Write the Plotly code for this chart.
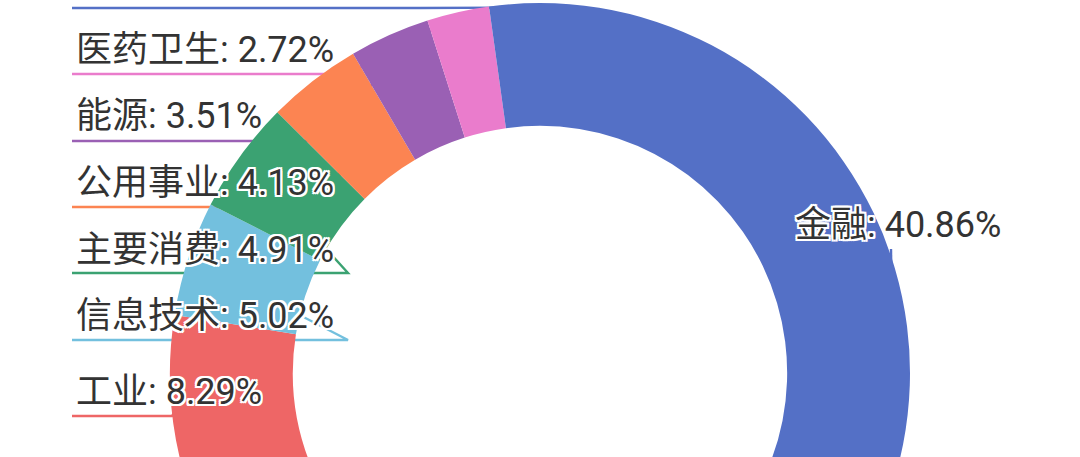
import math
import plotly.graph_objects as go

# ---------------- data ----------------
sectors = ["金融", "可选消费", "原材料", "工业", "信息技术", "主要消费",
           "公用事业", "能源", "医药卫生", "电信业务"]
weights = [40.86, 15.37, 12.99, 8.29, 5.02, 4.91, 4.13, 3.51, 2.72, 2.20]
palette = ["#5470c6", "#91cc75", "#fac858", "#ee6666", "#73c0de",
           "#3ba272", "#fc8452", "#9a60b4", "#ea7ccc"]

# ---------------- layout constants ----------------
W, H = 1080, 760          # figure taller than the window; the window shows its top part
CX, CY, R = 540, 373, 370  # donut centre / outer radius in px
HOLE = 0.668
TEXT_X = 74
LINE_X0 = 72
FONT = "Roboto, 'Noto Sans CJK SC', sans-serif"
FONT_SIZE = 36

# label placement: side ("none" = label lies outside the visible window), underline y, elbow x
label_side = ["right", "none", "none", "left", "left", "left", "left", "left", "left", "left"]
label_under_y = [249, 0, 0, 416, 340, 273, 207, 141, 74, 8]
label_text_dy = [24, 0, 0, 24, 24, 23, 24, 25, 24, 24]
label_elbow_x = [891, 0, 0, 172, 348, 348, 348, 348, 348, 420]

colors = [palette[i % len(palette)] for i in range(len(sectors))]


def px(x):
    return x / W


def py(y):
    return 1 - y / H


fig = go.Figure(go.Pie(
    labels=sectors,
    values=weights,
    sort=False,
    direction="clockwise",
    rotation=0,
    hole=HOLE,
    marker=dict(colors=colors, line=dict(width=0)),
    textinfo="none",
    hoverinfo="label+percent",
    showlegend=False,
    domain=dict(x=[px(CX - R), px(CX + R)], y=[py(CY + R), py(CY - R)]),
))

total = sum(weights)
shapes = []
annotations = []
halo = ("2px 0 0 #fff, -2px 0 0 #fff, 0 2px 0 #fff, 0 -2px 0 #fff, "
        "2px 2px 0 #fff, -2px -2px 0 #fff, 2px -2px 0 #fff, -2px 2px 0 #fff")
cum = 0.0
for name, v, col, side, uy, tdy, ex in zip(sectors, weights, colors, label_side,
                                            label_under_y, label_text_dy, label_elbow_x):
    mid = (cum + v / 2) / total * 2 * math.pi
    cum += v
    if side == "none":
        continue
    sx = CX + R * 0.99 * math.sin(mid)
    sy = CY - R * 0.99 * math.cos(mid)
    text = f"{name}: {v:.2f}%"
    if side == "left":
        shapes.append(dict(type="path", layer="below",
                           path=f"M {px(LINE_X0)},{py(uy)} L {px(ex)},{py(uy)} L {px(sx)},{py(sy)}",
                           xref="paper", yref="paper",
                           line=dict(color=col, width=2.4)))
        annotations.append(dict(x=px(TEXT_X), y=py(uy - tdy), xref="paper", yref="paper",
                                xanchor="left", yanchor="middle", showarrow=False,
                                text=text,
                                font=dict(size=FONT_SIZE, color="#333", family=FONT, shadow=halo)))
    else:
        shapes.append(dict(type="path", layer="below",
                           path=f"M {px(sx)},{py(sy)} L {px(ex)},{py(uy)}",
                           xref="paper", yref="paper",
                           line=dict(color=col, width=2.4)))
        annotations.append(dict(x=px(1003), y=py(uy - tdy), xref="paper", yref="paper",
                                xanchor="right", yanchor="middle", showarrow=False,
                                text=text,
                                font=dict(size=FONT_SIZE, color="#333", family=FONT, shadow=halo)))

fig.update_layout(
    width=W, height=H,
    margin=dict(l=0, r=0, t=0, b=0),
    paper_bgcolor="#ffffff",
    plot_bgcolor="#ffffff",
    shapes=shapes,
    annotations=annotations,
    font=dict(family=FONT),
)

fig.write_html(
    "out.html",
    config={"displayModeBar": False},
    post_script="document.body.style.margin='0';document.body.style.overflow='hidden';",
)
